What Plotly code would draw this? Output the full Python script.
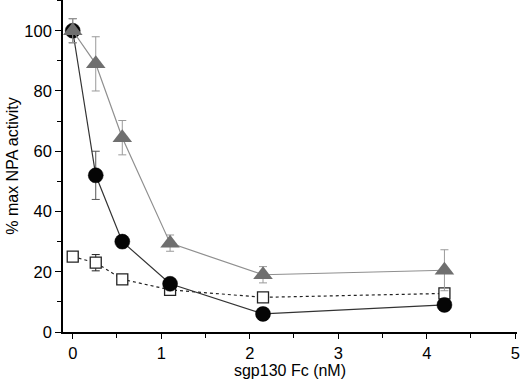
import plotly.graph_objects as go

conc = [0, 0.26, 0.56, 1.1, 2.15, 4.2]

circle_vals = [100, 52, 30, 16, 6, 9]
circle_err = [4, 8, 2, 1.5, 2, 2]

triangle_vals = [100, 89, 64.5, 29.5, 19, 20.5]
triangle_err = [4, 9, 5.7, 2.7, 2.7, 6.8]

square_vals = [25, 23, 17.5, 14, 11.5, 12.8]
square_err = [0.8, 2.7, 1.3, 1.0, 1.3, 1.5]

x_ticks = [0, 1, 2, 3, 4, 5]
y_ticks = [0, 20, 40, 60, 80, 100]

fig = go.Figure()

fig.add_trace(go.Scatter(
    x=conc, y=square_vals, mode="lines+markers",
    line=dict(color="#222222", width=1.2, dash="3px,3px"),
    marker=dict(symbol="square", size=11, color="white",
                line=dict(color="#222222", width=1.3)),
    error_y=dict(type="data", array=square_err, visible=True,
                 color="#222222", thickness=1, width=4),
    showlegend=False))

fig.add_trace(go.Scatter(
    x=conc, y=circle_vals, mode="lines+markers",
    line=dict(color="#333333", width=1.2),
    marker=dict(symbol="circle", size=15, color="#050505",
                line=dict(color="#000000", width=0.5)),
    error_y=dict(type="data", array=circle_err, visible=True,
                 color="#555555", thickness=1, width=4),
    showlegend=False))

fig.add_trace(go.Scatter(
    x=conc, y=triangle_vals, mode="lines+markers",
    line=dict(color="#8f8f8f", width=1.2),
    marker=dict(symbol="triangle-up", size=17, color="#6f6f6f",
                line=dict(width=0)),
    error_y=dict(type="data", array=triangle_err, visible=True,
                 color="#9a9a9a", thickness=1, width=4),
    showlegend=False))

font_family = "Liberation Sans, Arial, sans-serif"

fig.update_layout(
    width=520, height=388,
    margin=dict(l=63, r=3, t=0, b=56),
    paper_bgcolor="white", plot_bgcolor="white",
    font=dict(family=font_family, size=16.5, color="black"),
    xaxis=dict(
        range=[-0.11, 5.02], tickvals=x_ticks, ticktext=[str(v) for v in x_ticks],
        showgrid=False, zeroline=False, showline=True, linecolor="black", linewidth=1.6,
        ticks="outside", ticklen=5, tickwidth=1.4, tickcolor="black",
        minor=dict(dtick=0.5, tick0=0, ticks="outside", ticklen=4, tickwidth=1.2, tickcolor="black"),
        title=dict(text="sgp130 Fc (nM)", font=dict(size=16), standoff=0),
        tickfont=dict(size=16.5), automargin=False,
    ),
    yaxis=dict(
        range=[0, 110.2], tickvals=y_ticks, ticktext=[str(v) for v in y_ticks],
        showgrid=False, zeroline=False, showline=True, linecolor="black", linewidth=1.6,
        ticks="outside", ticklen=6, tickwidth=1.4, tickcolor="black",
        minor=dict(dtick=10, tick0=0, ticks="outside", ticklen=4, tickwidth=1.2, tickcolor="black"),
        title=dict(text="% max NPA activity", font=dict(size=16), standoff=2),
        tickfont=dict(size=16.5), automargin=False,
    ),
)

fig.write_html(
    "out.html",
    config={"displayModeBar": False},
    post_script="document.body.style.margin='0px';document.body.style.overflow='hidden';",
)
